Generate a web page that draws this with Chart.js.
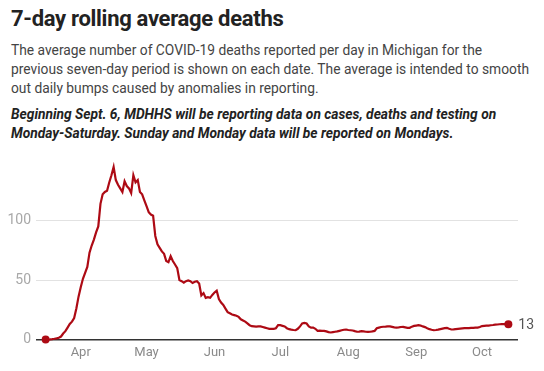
<!DOCTYPE html>
<html>
<head>
<meta charset="utf-8">
<script src="https://cdn.jsdelivr.net/npm/chart.js@4/dist/chart.umd.min.js"></script>
<style>
  html, body { margin:0; padding:0; background:#fff; width:544px; height:371px; overflow:hidden; }
  .t { position:absolute; left:11px; white-space:nowrap; font-family: Roboto, "Noto Sans", sans-serif; }
  #title { top:8px; font-size:22px; font-weight:700; color:#222; line-height:22px; letter-spacing:-0.3px; }
  .p { font-size:13.8px; color:#444; line-height:19px; }
  .b { font-size:13.8px; color:#222; font-weight:700; font-style:italic; line-height:19px; }
  #wrap { position:absolute; left:0; top:150px; width:544px; height:221px; }
</style>
</head>
<body>
<div id="title" class="t">7-day rolling average deaths</div>
<div class="t p" style="top:40.5px">The average number of COVID-19 deaths reported per day in Michigan for the</div>
<div class="t p" style="top:59.8px">previous seven-day period is shown on each date. The average is intended to smooth</div>
<div class="t p" style="top:79px">out daily bumps caused by anomalies in reporting.</div>
<div class="t b" style="top:104.6px">Beginning Sept. 6, MDHHS will be reporting data on cases, deaths and testing on</div>
<div class="t b" style="top:123.8px">Monday-Saturday. Sunday and Monday data will be reported on Mondays.</div>
<div id="wrap"><canvas id="c" width="544" height="221"></canvas></div>
<script>
// ---- data (7-day average deaths per day, Michigan, from 2020-03-16) ----
const startDate = '2020-03-16';
const deaths = [
  0, 0, 0.1, 0.3, 0.6, 1, 1.5, 2.5, 5, 7,
  10, 13, 15, 18, 26, 36, 44, 51, 56, 61,
  73, 79, 84, 90, 95, 114, 122, 124, 125, 132,
  138, 145, 134, 130, 127, 124, 133, 129, 127, 123,
  138, 132, 134, 124, 122, 117, 112, 107, 105, 104,
  87, 80, 77, 74, 72, 66, 65, 70, 66, 63,
  60, 50, 49, 47.7, 49, 49.6, 49, 47.5, 48.5, 49,
  47, 37, 39, 35, 35.5, 35, 37.5, 39.5, 41, 34,
  31, 29, 26, 23, 22, 21, 20.5, 20, 19, 17,
  16, 15, 13.5, 12, 11.2, 11, 10.8, 11, 11, 10.5,
  10, 9.5, 9, 8.9, 9, 9.5, 12, 12, 11.5, 11,
  9.5, 8.7, 8.3, 8, 7.8, 9, 11, 13.5, 14, 13.4,
  11, 10, 10, 9, 7.3, 7.5, 7.3, 7.3, 6.8, 6.2,
  5.9, 6.2, 6.5, 6.8, 7.3, 7.8, 8.2, 8.4, 8, 7.8,
  7.6, 7, 6.5, 6.6, 7, 6.8, 6.5, 6.4, 6.5, 6.8,
  7.2, 9.5, 10, 10.5, 10.7, 10.8, 11, 11, 10.6, 10.2,
  10, 10.2, 10.5, 10.6, 10.2, 9.8, 9.8, 10.8, 11.4, 11.7,
  12, 11.7, 11, 10.4, 9.5, 8.7, 8.2, 7.8, 8, 8.3,
  8.7, 9.1, 9.5, 9.7, 9, 8.4, 8.5, 8.7, 8.9, 9.1,
  9.3, 9.5, 9.5, 9.6, 9.7, 9.8, 9.9, 10, 10.5, 11.3,
  11.5, 11.6, 11.7, 12, 12.2, 12.5, 12.6, 12.8, 13, 12.9,
  12.9, 12.8
];
const monthTickDates = ['2020-04-01','2020-05-01','2020-06-01','2020-07-01','2020-08-01','2020-09-01','2020-10-01'];
const monthTickLabels = ['Apr','May','Jun','Jul','Aug','Sep','Oct'];
const yTicks = [0, 50, 100];

const DAY = 86400000;
const t0 = Date.parse(startDate + 'T00:00:00Z');
const dayOf = s => Math.round((Date.parse(s + 'T00:00:00Z') - t0) / DAY);
const points = deaths.map((v, i) => ({ x: i, y: v }));
const monthTickDays = monthTickDates.map(dayOf);
const lastIdx = deaths.length - 1;
const RED = '#ad0a14';

const endLabel = {
  id: 'endLabel',
  afterDatasetsDraw(chart) {
    const meta = chart.getDatasetMeta(0);
    const pt = meta.data[lastIdx];
    const ctx = chart.ctx;
    ctx.save();
    ctx.font = '14px Roboto, "Noto Sans", sans-serif';
    ctx.fillStyle = '#555';
    ctx.textAlign = 'left';
    ctx.textBaseline = 'middle';
    ctx.fillText(String(Math.round(deaths[lastIdx])), pt.x + 10, pt.y + 1);
    ctx.restore();
  }
};

new Chart(document.getElementById('c'), {
  type: 'line',
  data: {
    datasets: [{
      data: points,
      borderColor: RED,
      backgroundColor: RED,
      borderWidth: 2.2,
      tension: 0,
      pointRadius: c => (c.dataIndex === 0 || c.dataIndex === lastIdx) ? 4 : 0,
      pointBorderWidth: 0,
      pointHoverRadius: 0,
      clip: false
    }]
  },
  options: {
    responsive: false,
    animation: false,
    events: [],
    layout: { padding: { left: 0, right: 26, top: 10, bottom: 0 } },
    plugins: { legend: { display: false }, tooltip: { enabled: false } },
    scales: {
      x: {
        type: 'linear',
        min: -4.4,
        max: lastIdx + 4.4,
        grid: { display: false, drawTicks: false },
        border: { display: false },
        afterBuildTicks: s => { s.ticks = monthTickDays.map(v => ({ value: v })); },
        afterFit: s => { s.height = 31.5; },
        ticks: {
          autoSkip: false,
          maxRotation: 0,
          padding: 5,
          color: '#8a8a8a',
          font: { family: 'Roboto, "Noto Sans", sans-serif', size: 13 },
          callback: (v) => monthTickLabels[monthTickDays.indexOf(v)]
        }
      },
      y: {
        min: 0,
        max: 148,
        grid: {
          drawTicks: false,
          color: c => c.tick.value === 0 ? '#333' : '#e2e2e2',
          lineWidth: c => c.tick.value === 0 ? 1.5 : 1
        },
        border: { display: false },
        afterBuildTicks: s => { s.ticks = yTicks.map(v => ({ value: v })); },
        afterFit: s => { s.width = 36; },
        ticks: {
          padding: 5,
          color: '#a8a8a8',
          font: { family: 'Roboto, "Noto Sans", sans-serif', size: 14 }
        }
      }
    }
  },
  plugins: [endLabel]
});
</script>
</body>
</html>
